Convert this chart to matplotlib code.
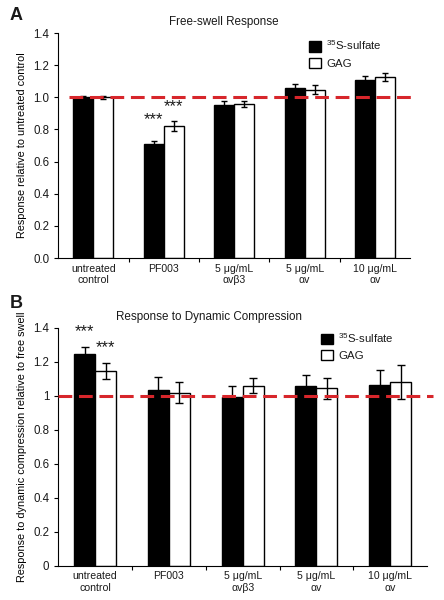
import numpy as np
import matplotlib
matplotlib.use("Agg")
import matplotlib.pyplot as plt
from matplotlib.patches import Patch

plt.rcParams["font.family"] = ["Liberation Sans", "DejaVu Sans"]
plt.rcParams["mathtext.default"] = "regular"
plt.rcParams["text.color"] = "#1a1a1a"
plt.rcParams["xtick.labelcolor"] = "#1a1a1a"
plt.rcParams["ytick.labelcolor"] = "#1a1a1a"

categories = ["untreated\ncontrol", "PF003", "5 μg/mL\nαvβ3", "5 μg/mL\nαv", "10 μg/mL\nαv"]

# Panel A: free-swell response
a_sulfate = [1.00, 0.71, 0.955, 1.055, 1.105]
a_sulfate_err = [0.01, 0.02, 0.022, 0.03, 0.025]
a_gag = [1.00, 0.82, 0.96, 1.048, 1.125]
a_gag_err = [0.01, 0.03, 0.02, 0.03, 0.025]
a_yticks = [0.0, 0.2, 0.4, 0.6, 0.8, 1.0, 1.2, 1.4]
a_ticklabels = ["0.0", "0.2", "0.4", "0.6", "0.8", "1.0", "1.2", "1.4"]

# Panel B: response to dynamic compression
b_sulfate = [1.245, 1.035, 0.99, 1.055, 1.06]
b_sulfate_err = [0.04, 0.072, 0.065, 0.065, 0.088]
b_gag = [1.145, 1.017, 1.058, 1.043, 1.08]
b_gag_err = [0.045, 0.063, 0.043, 0.06, 0.1]
b_yticks = [0, 0.2, 0.4, 0.6, 0.8, 1, 1.2, 1.4]
b_ticklabels = ["0", "0.2", "0.4", "0.6", "0.8", "1", "1.2", "1.4"]

RED = "#d7262b"


def panel(ax, s, s_err, g, g_err, yticks, ylabels, ylabel, title, title_x,
          capsize, line_x, leg_anchor):
    x = np.arange(len(categories))
    w = 0.285
    ax.bar(x - w / 2, s, w, color="black", edgecolor="black", lw=1)
    ax.bar(x + w / 2, g, w, color="white", edgecolor="black", lw=1)
    ax.errorbar(x - w / 2, s, yerr=s_err, fmt="none", ecolor="black",
                elinewidth=1, capsize=capsize, capthick=1)
    ax.errorbar(x + w / 2, g, yerr=g_err, fmt="none", ecolor="black",
                elinewidth=1, capsize=capsize, capthick=1)
    ax.axhline(1.0, xmin=line_x[0], xmax=line_x[1], color=RED, lw=2.2,
               dashes=(4.5, 2.2), clip_on=False, zorder=5)
    ax.set_xlim(-0.5, 4.5)
    ax.set_ylim(0, 1.4)
    ax.set_yticks(yticks)
    ax.set_yticklabels(ylabels, fontsize=8.3)
    ax.set_xticks(np.arange(0.5, 4.5, 1))
    ax.set_xticklabels([])
    ax.set_xticks(x, minor=True)
    ax.set_xticklabels(categories, minor=True, fontsize=7.6)
    ax.tick_params(axis="x", which="minor", length=0, pad=4)
    ax.tick_params(axis="both", which="major", direction="out", length=3,
                   width=0.8)
    for sp in ["top", "right"]:
        ax.spines[sp].set_visible(False)
    for sp in ["left", "bottom"]:
        ax.spines[sp].set_linewidth(0.8)
    ax.set_ylabel(ylabel, fontsize=7.8, labelpad=4)
    ax.text(title_x, 1.02, title, transform=ax.transAxes, ha="center",
            va="bottom", fontsize=8.4)
    handles = [Patch(facecolor="black", edgecolor="black"),
               Patch(facecolor="white", edgecolor="black")]
    ax.legend(handles, ["$^{35}$S-sulfate", "GAG"], loc="upper left",
              bbox_to_anchor=leg_anchor, frameon=False, fontsize=8.2,
              handlelength=1.0, handleheight=1.0, handletextpad=0.5,
              borderpad=0, borderaxespad=0, labelspacing=0.45)
    return x, w


fig = plt.figure(figsize=(4.44, 6.0), dpi=100)

ax_a = fig.add_axes([0.131, 0.57, 0.793, 0.375])
x, w = panel(ax_a, a_sulfate, a_sulfate_err, a_gag, a_gag_err, a_yticks,
             a_ticklabels, "Response relative to untreated control",
             "Free-swell Response", 0.47, 2.5, (0.03, 1.01), (0.713, 0.975))
ax_a.text(x[1] - w / 2, a_sulfate[1] + a_sulfate_err[1] + 0.13, "***",
          ha="center", va="center", fontsize=12)
ax_a.text(x[1] + w / 2, a_gag[1] + a_gag_err[1] + 0.09, "***",
          ha="center", va="center", fontsize=12)

ax_b = fig.add_axes([0.131, 0.057, 0.831, 0.397])
x, w = panel(ax_b, b_sulfate, b_sulfate_err, b_gag, b_gag_err, b_yticks,
             b_ticklabels, "Response to dynamic compression relative to free swell",
             "Response to Dynamic Compression", 0.41, 3.2, (0.0, 1.016),
             (0.713, 0.985))
ax_b.text(x[0] - w / 2, b_sulfate[0] + b_sulfate_err[0] + 0.09, "***",
          ha="center", va="center", fontsize=12)
ax_b.text(x[0] + w / 2, b_gag[0] + b_gag_err[0] + 0.095, "***",
          ha="center", va="center", fontsize=12)

fig.text(0.036, 0.974, "A", fontsize=13, fontweight="bold", ha="center", va="center")
fig.text(0.036, 0.495, "B", fontsize=13, fontweight="bold", ha="center", va="center")

fig.savefig("out.png", dpi=100)
